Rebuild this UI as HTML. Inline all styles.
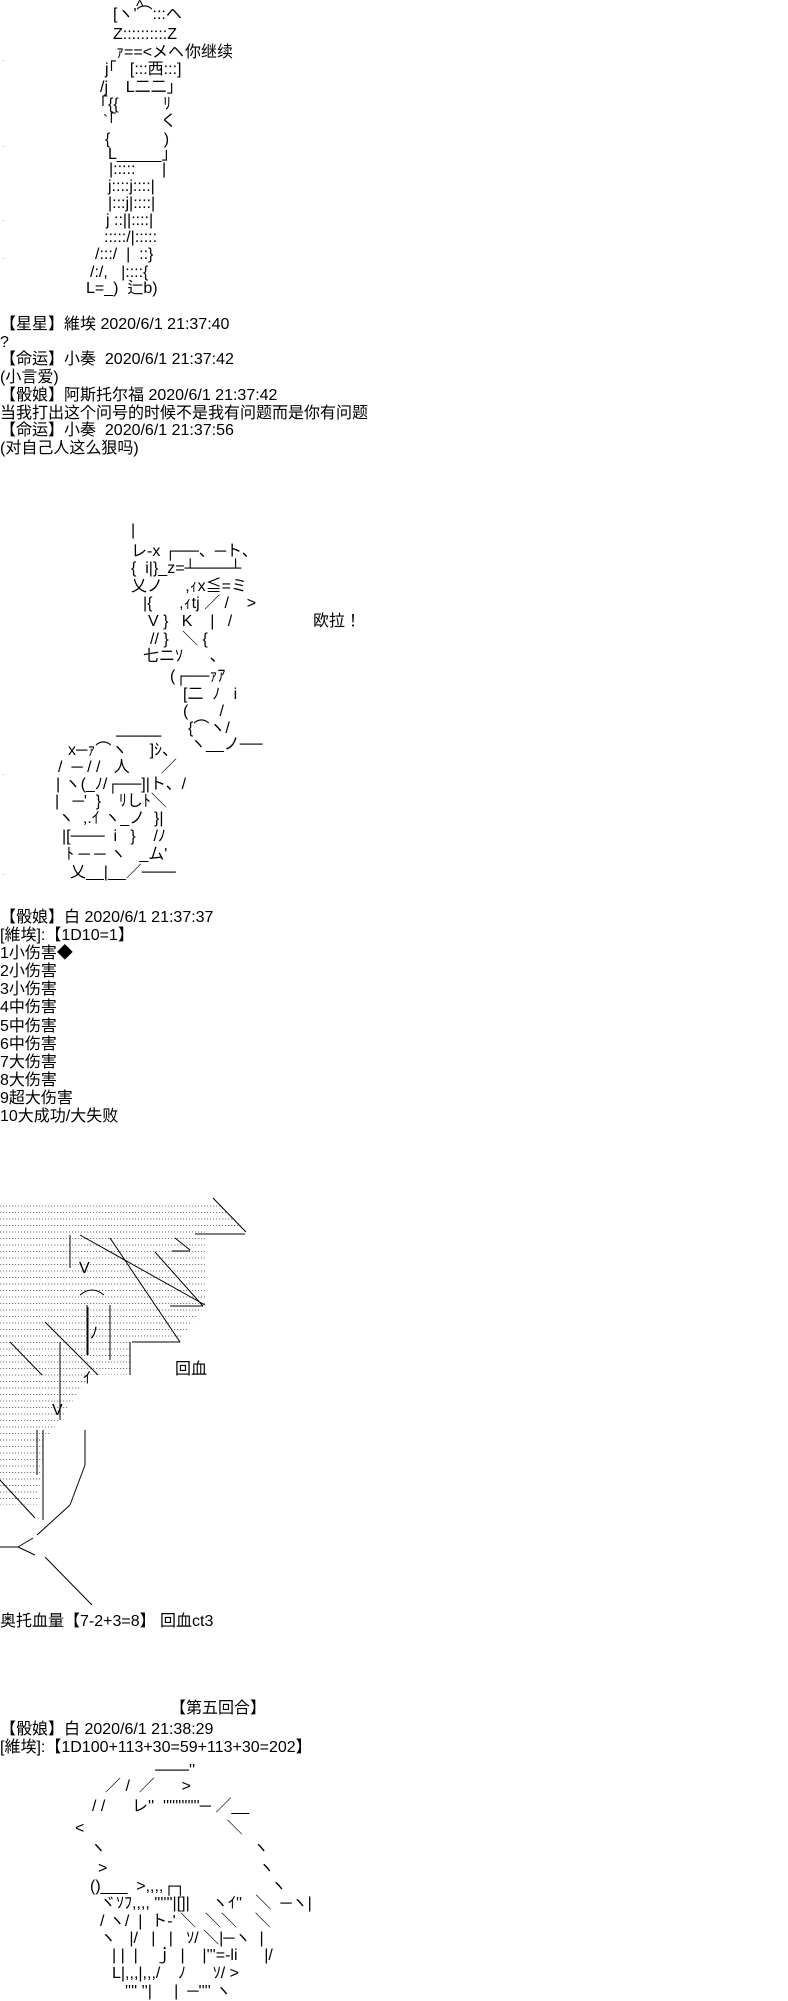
<!DOCTYPE html>
<html><head><meta charset="utf-8">
<style>
html,body{margin:0;padding:0;background:#fff;}
body{width:788px;height:2000px;position:relative;overflow:hidden;font-family:"Liberation Sans","Noto Sans CJK JP",sans-serif;font-size:16px;color:#000;}
.l{position:absolute;white-space:pre;line-height:18px;}
.t{position:absolute;left:0;white-space:pre;line-height:17.7px;}
.d{position:absolute;left:2px;font-size:8px;color:#888;}
</style></head><body>

<!-- art 1 -->
<div class="l" style="left:136px;top:-2px">^</div>
<div class="l" style="left:113px;top:6px">[ヽ'⌒:::ヘ</div>
<div class="l" style="left:113px;top:26px">Z::::::::::Z</div>
<div class="l" style="left:116px;top:44px">ｧ==&lt;メヘ</div>
<div class="l" style="left:185px;top:44px">你继续</div>
<div class="l" style="left:105px;top:61px">j｢   [:::西:::]</div>
<div class="l" style="left:100px;top:79px">/j    L二二」</div>
<div class="l" style="left:100px;top:96px">｢{{          ﾘ</div>
<div class="l" style="left:103px;top:113px">`｢          く</div>
<div class="l" style="left:105px;top:131px">{            )</div>
<div class="l" style="left:108px;top:146px">L_____」</div>
<div class="l" style="left:109px;top:161px">|:::::      |</div>
<div class="l" style="left:108px;top:178px">j::::j::::|</div>
<div class="l" style="left:108px;top:195px">|:::j|::::|</div>
<div class="l" style="left:106px;top:212px">j ::||::::|</div>
<div class="l" style="left:104px;top:229px">:::::/|:::::</div>
<div class="l" style="left:95px;top:246px">/:::/  |  ::}</div>
<div class="l" style="left:90px;top:264px">/:/,   |::::{</div>
<div class="l" style="left:86px;top:280px">L=_)  辷b)</div>
<div class="d" style="top:56px">·</div><div class="d" style="top:142px">·</div><div class="d" style="top:216px">·</div><div class="d" style="top:254px">·</div>

<div class="t" style="top:316px">【星星】維埃 2020/6/1 21:37:40
?
【命运】小奏  2020/6/1 21:37:42
(小言爱)
【骰娘】阿斯托尔福 2020/6/1 21:37:42
当我打出这个问号的时候不是我有问题而是你有问题
【命运】小奏  2020/6/1 21:37:56
(对自己人这么狠吗)</div>

<!-- art 2 -->
<div class="l" style="left:131px;top:522px">|</div>
<div class="l" style="left:131px;top:543px">レ-x ┌──、─ト、</div>
<div class="l" style="left:131px;top:560px">{  i|}_z=┴───┴</div>
<div class="l" style="left:131px;top:578px">乂ノ     ,ｨx≦=ミ</div>
<div class="l" style="left:143px;top:595px">|{      ,ｨtj ／ /    &gt;</div>
<div class="l" style="left:148px;top:613px">V }   K    |   /</div>
<div class="l" style="left:313px;top:613px">欧拉！</div>
<div class="l" style="left:150px;top:631px">// }   ＼ {</div>
<div class="l" style="left:143px;top:648px">七ニｿ      、</div>
<div class="l" style="left:170px;top:668px">(┌──ｧｱ</div>
<div class="l" style="left:183px;top:686px">[二  ﾉ   i</div>
<div class="l" style="left:183px;top:703px">(       /</div>
<div class="l" style="left:188px;top:720px">{⌒ヽ/</div>
<div class="l" style="left:116px;top:728px">────</div>
<div class="l" style="left:190px;top:736px">ヽ__ノ──</div>
<div class="l" style="left:68px;top:742px">x─ｧ⌒ヽ     ]ｼ、</div>
<div class="l" style="left:58px;top:759px">/  ─ / /   人       ／</div>
<div class="l" style="left:56px;top:776px">| ヽ(_ﾉ/┌──]|ト、/</div>
<div class="l" style="left:55px;top:793px">|   ─'  }    ﾘしﾄ＼</div>
<div class="l" style="left:58px;top:810px">ヽ  ,.ｲ ヽ_ノ  }|</div>
<div class="l" style="left:62px;top:828px">|[───  i   }    /ﾉ</div>
<div class="l" style="left:66px;top:846px">ﾄ ─ ─ ヽ   _ム'</div>
<div class="l" style="left:70px;top:864px">乂__|__／───</div>
<div class="d" style="top:770px">·</div><div class="d" style="top:870px">·</div>

<div class="t" style="top:909px;line-height:18.1px">【骰娘】白 2020/6/1 21:37:37
[維埃]:【1D10=1】
1小伤害◆
2小伤害
3小伤害
4中伤害
5中伤害
6中伤害
7大伤害
8大伤害
9超大伤害
10大成功/大失败</div>

<!-- art 3 -->
<svg style="position:absolute;left:0;top:1190px" width="260" height="420" viewBox="0 1190 260 420">
<defs>
<pattern id="dp" x="0" y="0" width="3" height="6.5" patternUnits="userSpaceOnUse"><rect x="0" y="3" width="1.2" height="1" fill="#777"/></pattern>
</defs>
<polygon fill="url(#dp)" points="0,1200 215,1200 245,1230 230,1230 205,1230 205,1305 180,1340 130,1342 130,1375 90,1375 60,1420 45,1440 37,1505 0,1505"/>
<g stroke="#000" stroke-width="1" fill="none">
<line x1="213" y1="1198" x2="246" y2="1232"/><line x1="195" y1="1234" x2="245" y2="1234"/>
<line x1="175" y1="1238" x2="190" y2="1250"/><line x1="172" y1="1251" x2="190" y2="1251"/>
<line x1="80" y1="1235" x2="205" y2="1305"/><line x1="155" y1="1252" x2="203" y2="1306"/><line x1="170" y1="1306" x2="203" y2="1306"/>
<line x1="110" y1="1238" x2="180" y2="1342"/><line x1="132" y1="1342" x2="180" y2="1342"/>
<line x1="130" y1="1342" x2="130" y2="1375"/>
<line x1="45" y1="1322" x2="98" y2="1375"/>
<line x1="10" y1="1342" x2="42" y2="1375"/>
<line x1="70" y1="1235" x2="70" y2="1268"/>
<line x1="87" y1="1305" x2="87" y2="1355"/><line x1="110" y1="1305" x2="110" y2="1360"/>
<line x1="60" y1="1342" x2="60" y2="1420"/><line x1="43" y1="1430" x2="43" y2="1520"/>
<line x1="37" y1="1430" x2="37" y2="1475"/>
<line x1="0" y1="1480" x2="35" y2="1518"/>
<line x1="85" y1="1430" x2="85" y2="1465"/><line x1="85" y1="1465" x2="70" y2="1505"/><line x1="70" y1="1505" x2="37" y2="1535"/>
<line x1="0" y1="1547" x2="18" y2="1547"/><line x1="18" y1="1547" x2="33" y2="1538"/><line x1="18" y1="1547" x2="35" y2="1555"/>
<line x1="45" y1="1557" x2="92" y2="1605"/>
<path d="M80 1295 q12 -10 24 0"/>
<line x1="88" y1="1307" x2="88" y2="1355"/>
</g>
<text x="175" y="1374" font-size="16" font-family="Liberation Sans, Noto Sans CJK JP, sans-serif">回血</text>
</svg>
<div class="l" style="left:79px;top:1260px">V</div>
<div class="l" style="left:90px;top:1325px">ﾉ</div>
<div class="l" style="left:83px;top:1370px">ｲ</div>
<div class="l" style="left:52px;top:1402px">V</div>

<div class="t" style="top:1613px">奥托血量【7-2+3=8】 回血ct3</div>

<div class="t" style="top:1700px;left:170px">【第五回合】</div>
<div class="t" style="top:1721px;line-height:18px">【骰娘】白 2020/6/1 21:38:29
[維埃]:【1D100+113+30=59+113+30=202】</div>

<!-- art 4 -->
<div class="l" style="left:155px;top:1762px">───''</div>
<div class="l" style="left:105px;top:1778px">／ /  ／      &gt;</div>
<div class="l" style="left:92px;top:1798px">/ /      レ''  ''''''''''''─ ／__</div>
<div class="l" style="left:75px;top:1820px">&lt;                                ＼</div>
<div class="l" style="left:90px;top:1840px">ヽ                                 ヽ</div>
<div class="l" style="left:98px;top:1860px">&gt;                                  ヽ</div>
<div class="l" style="left:90px;top:1878px">()___  &gt;,,,,┌┐                   ヽ</div>
<div class="l" style="left:100px;top:1895px">ヾｿﾌ,,,, ''''''|[]|     ヽｲ''   ＼  ─ヽ|</div>
<div class="l" style="left:100px;top:1913px">/ ヽ/  |  ト-' ＼  ＼＼    ＼</div>
<div class="l" style="left:100px;top:1930px">ヽ   |/   |   |   ｿ/ ＼|─ヽ  |</div>
<div class="l" style="left:112px;top:1947px">| |  |    ｊ  |    |'''=-li      |/</div>
<div class="l" style="left:112px;top:1965px">L|,,,|,,,/    ﾉ      ｿ/ &gt;</div>
<div class="l" style="left:125px;top:1983px">'''' ''|     |  ─'''' ヽ</div>

</body></html>
